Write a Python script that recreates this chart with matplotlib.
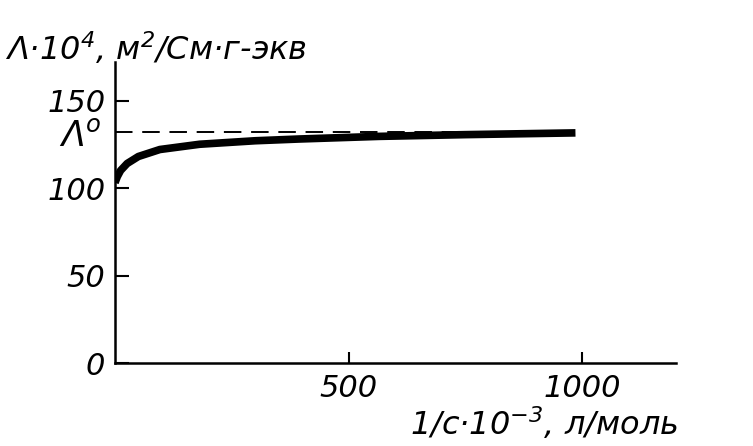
import matplotlib.pyplot as plt

# curve: 1/c*10^-3 (l/mol) vs Lambda*10^4
inv_c = [0, 5, 12, 26, 50, 96, 181, 300, 394, 565, 750, 985]
lam = [103, 106.5, 110, 114, 118, 122, 125, 127, 128, 129.5, 130.5, 131.5]
lam_inf = 132
y_ticks = [0, 50, 100, 150]
x_ticks = [500, 1000]

plt.rcParams['font.family'] = ['DejaVu Sans']
plt.rcParams['font.style'] = 'italic'
plt.rcParams['mathtext.fontset'] = 'custom'
plt.rcParams['mathtext.rm'] = 'DejaVu Sans:italic'
plt.rcParams['mathtext.it'] = 'DejaVu Sans:italic'

fig = plt.figure(figsize=(7.53, 4.46), dpi=100)
ax = fig.add_axes([0.1527, 0.186, 0.745, 0.675])

ax.plot(inv_c, lam, color='black', lw=5.5, solid_capstyle='butt')
ax.plot([0, 985], [lam_inf, lam_inf], color='black', lw=1.4, dashes=(9, 5))

ax.set_xlim(0, 1200)
ax.set_ylim(0, 172)
for s in ['top', 'right']:
    ax.spines[s].set_visible(False)
for s in ['left', 'bottom']:
    ax.spines[s].set_linewidth(1.8)

ax.set_xticks(x_ticks)
ax.set_xticklabels([str(v) for v in x_ticks])
ax.set_yticks(y_ticks)
ax.set_yticklabels([str(v) for v in y_ticks])
ax.tick_params(axis='y', direction='in', length=10, width=1.5, labelsize=22, pad=7)
ax.tick_params(axis='x', direction='in', length=8, width=1.5, labelsize=22, pad=8)

ax.text(-0.025, lam_inf - 2, r'Λ$^o$', transform=ax.get_yaxis_transform(),
        ha='right', va='center', fontsize=25)
fig.text(0.006, 0.865, r'Λ·10$^4$, м$^2$/См·г-экв', fontsize=23, ha='left', va='baseline')
fig.text(0.9, 0.025, r'1/с·10$^{-3}$, л/моль', fontsize=23, ha='right', va='baseline')

fig.savefig('out.png', dpi=100)
